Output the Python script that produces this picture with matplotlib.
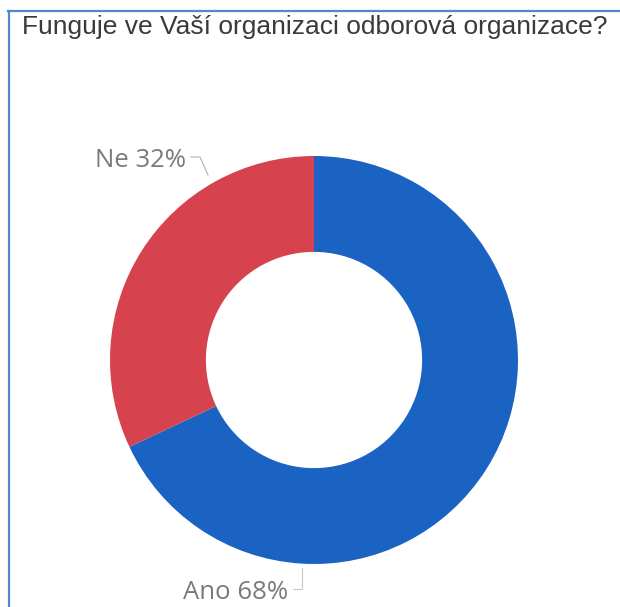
import matplotlib.pyplot as plt
from matplotlib.lines import Line2D

title = 'Funguje ve Vaší organizaci odborová organizace?'
categories = ['Ano', 'Ne']
shares = [68, 32]
colors = ['#1A63C2', '#D6434F']

W, H = 620, 607
fig = plt.figure(figsize=(W / 100, H / 100), dpi=100)
fig.patch.set_facecolor('white')

# donut centre / radius in pixels
cx, cy, r = 314, 360, 204
ax = fig.add_axes([(cx - r) / W, 1 - (cy + r) / H, 2 * r / W, 2 * r / H])
ax.pie(shares, colors=colors, startangle=90, counterclock=False, radius=1,
       wedgeprops=dict(width=0.47, edgecolor='none'))
ax.set_xlim(-1, 1)
ax.set_ylim(-1, 1)
ax.set_aspect('equal')
ax.axis('off')

def px(x, y):
    # pixel coordinates -> data coordinates of the donut axes
    return (x - cx) / r, (cy - y) / r

lbl_style = dict(fontsize=18.5, color='#7a7a7a', family=['Open Sans', 'DejaVu Sans'],
                 ha='right', va='baseline')

# Ne label + leader
tx, ty = px(186, 167)
ax.text(tx, ty, f'{categories[1]} {shares[1]}%', **lbl_style)
pts = [px(191, 157), px(200, 157), px(208, 175)]
ax.add_line(Line2D([p[0] for p in pts], [p[1] for p in pts], color='#b0b0b0',
                   lw=0.8, clip_on=False))

# Ano label + leader
tx, ty = px(288, 599)
ax.text(tx, ty, f'{categories[0]} {shares[0]}%', **lbl_style)
pts = [px(293, 589), px(302, 589), px(302, 568)]
ax.add_line(Line2D([p[0] for p in pts], [p[1] for p in pts], color='#c8c8c8',
                   lw=0.8, clip_on=False))

fig.text(22 / W, 1 - 34 / H, title, fontsize=19, color='#3a3a3a',
         family=['Liberation Sans', 'DejaVu Sans'], ha='left', va='baseline')

# frame (left and top edges)
border = '#5585CC'
fig.add_artist(Line2D([8.5 / W, 8.5 / W], [0, 1 - 11 / H], color=border, lw=1.6,
                      transform=fig.transFigure))
fig.add_artist(Line2D([8 / W, 1], [1 - 11 / H, 1 - 11 / H], color=border, lw=1.6,
                      transform=fig.transFigure))

fig.savefig('out.png', dpi=100)
